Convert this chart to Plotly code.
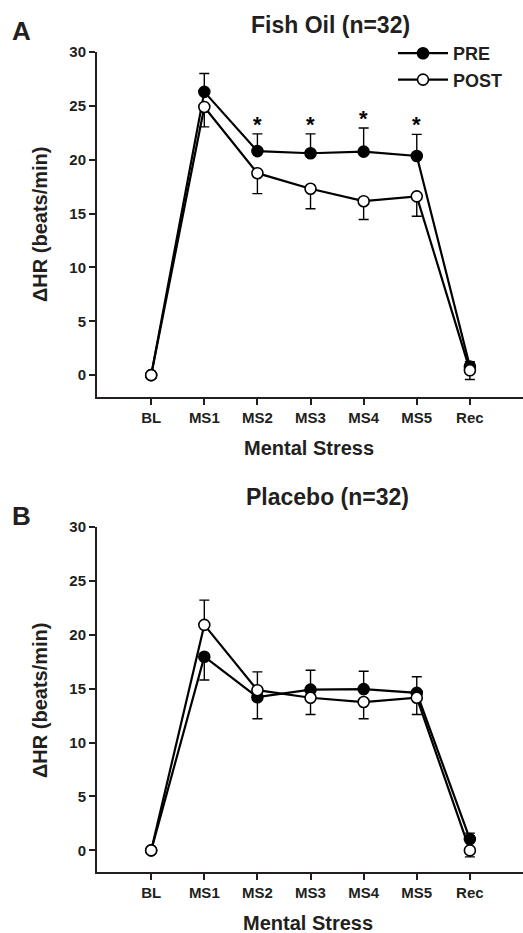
import plotly.graph_objects as go

# ---- data ----
categories = ["BL", "MS1", "MS2", "MS3", "MS4", "MS5", "Rec"]

fish_pre = [0, 26.3, 20.8, 20.6, 20.75, 20.35, 0.8]
fish_pre_up = [0, 1.7, 1.6, 1.8, 2.2, 2.0, 0.45]
fish_pre_down = [0, 0, 0, 0, 0, 0, 0]
fish_post = [0, 24.9, 18.75, 17.3, 16.15, 16.6, 0.45]
fish_post_up = [0, 0, 0, 0, 0, 0, 0]
fish_post_down = [0, 1.85, 1.9, 1.85, 1.7, 1.85, 0.85]
fish_sig = [False, False, True, True, True, True, False]

plac_pre = [0, 17.95, 14.2, 14.9, 14.95, 14.6, 1.05]
plac_pre_up = [0, 0, 0, 1.8, 1.65, 1.5, 0.55]
plac_pre_down = [0, 2.15, 2.0, 0, 0, 0, 0]
plac_post = [0, 20.9, 14.85, 14.15, 13.75, 14.15, 0.0]
plac_post_up = [0, 2.3, 1.7, 0, 0, 0, 0]
plac_post_down = [0, 0, 0, 1.55, 1.55, 1.55, 0.6]

y_ticks = [0, 5, 10, 15, 20, 25, 30]

FONT = "Liberation Sans, Arial, sans-serif"
INK = "#231f20"
W, H = 523, 933
x_idx = list(range(len(categories)))

fig = go.Figure()


def add_series(y, up, down, filled, name, xa, ya, show):
    fig.add_trace(go.Scatter(
        x=x_idx, y=y, name=name, mode="lines+markers",
        xaxis=xa, yaxis=ya, showlegend=show,
        line=dict(color="black", width=2.2),
        marker=dict(size=11, symbol="circle",
                    color="black" if filled else "white",
                    line=dict(color="black", width=1.6)),
        error_y=dict(type="data", symmetric=False, array=up, arrayminus=down,
                     color="black", thickness=1.4, width=5),
    ))


add_series(fish_pre, fish_pre_up, fish_pre_down, True, "<b>PRE</b>", "x", "y", True)
add_series(fish_post, fish_post_up, fish_post_down, False, "<b>POST</b>", "x", "y", True)
add_series(plac_pre, plac_pre_up, plac_pre_down, True, "PRE", "x2", "y2", False)
add_series(plac_post, plac_post_up, plac_post_down, False, "POST", "x2", "y2", False)

annotations = []
for i, s in enumerate(fish_sig):
    if s:
        annotations.append(dict(x=i, y=fish_pre[i] + fish_pre_up[i] + 0.9,
                                xref="x", yref="y", text="<b>*</b>", showarrow=False,
                                font=dict(family=FONT, size=22, color="black"),
                                yanchor="middle"))


def paper_text(px, py, text, size, angle=0, xanchor="center"):
    return dict(x=px / W, y=1 - py / H, xref="paper", yref="paper",
                text=text, showarrow=False, textangle=angle,
                font=dict(family=FONT, size=size, color=INK),
                xanchor=xanchor, yanchor="middle")


annotations += [
    paper_text(330, 25, "<b>Fish Oil (n=32)</b>", 23),
    paper_text(327, 497, "<b>Placebo (n=32)</b>", 23),
    paper_text(10, 31, "<b>A</b>", 26, xanchor="left"),
    paper_text(10, 516, "<b>B</b>", 26, xanchor="left"),
    paper_text(309, 448, "<b>Mental Stress</b>", 20),
    paper_text(308, 923, "<b>Mental Stress</b>", 20),
    paper_text(40, 224, "<b>ΔHR (beats/min)</b>", 20, angle=-90),
    paper_text(40, 700, "<b>ΔHR (beats/min)</b>", 20, angle=-90),
]

xaxis_common = dict(
    range=[-1.02, 7.0], tickmode="array", tickvals=x_idx,
    ticktext=[f"<b>{c}</b>" for c in categories],
    showline=True, linecolor=INK, linewidth=2, ticks="outside", ticklen=6,
    tickwidth=2, tickcolor=INK, showgrid=False, zeroline=False,
    tickfont=dict(family=FONT, size=15, color=INK), automargin=False,
)
yaxis_common = dict(
    range=[-2.0, 30], tickmode="array", tickvals=y_ticks,
    ticktext=[f"<b>{v}</b>" for v in y_ticks],
    showline=True, linecolor=INK, linewidth=2, ticks="outside", ticklen=6,
    tickwidth=2, tickcolor=INK, showgrid=False, zeroline=False,
    tickfont=dict(family=FONT, size=15, color=INK), automargin=False,
)

xa1 = dict(xaxis_common, domain=[97 / W, 1.0], anchor="y")
xa2 = dict(xaxis_common, domain=[97 / W, 1.0], anchor="y2")
ya1 = dict(yaxis_common, domain=[1 - 396.7 / H, 1 - 52 / H], anchor="x")
ya2 = dict(yaxis_common, domain=[1 - 872 / H, 1 - 526.7 / H], anchor="x2")

fig.update_layout(
    width=W, height=H, margin=dict(l=0, r=0, t=0, b=0, autoexpand=False),
    paper_bgcolor="white", plot_bgcolor="white",
    xaxis=xa1, yaxis=ya1, xaxis2=xa2, yaxis2=ya2,
    annotations=annotations,
    legend=dict(x=393 / W, y=1 - 35 / H, xanchor="left", yanchor="top",
                bgcolor="rgba(0,0,0,0)", font=dict(family=FONT, size=18, color=INK),
                tracegroupgap=0, itemwidth=50),
    showlegend=True,
)

fig.write_html(
    "out.html",
    config={"displayModeBar": False},
    post_script="document.body.style.margin='0';document.body.style.overflow='hidden';",
)
